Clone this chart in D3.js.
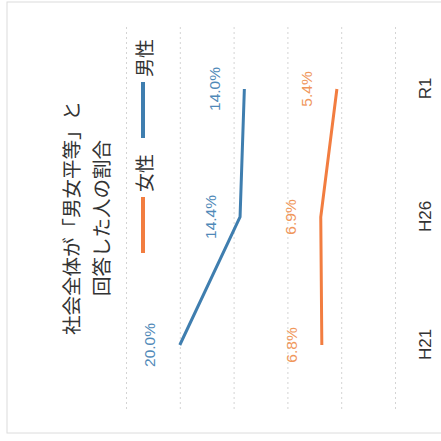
<!DOCTYPE html>
<html>
<head>
<meta charset="utf-8">
<script src="https://cdn.jsdelivr.net/npm/d3@7"></script>
<style>
  body { margin: 0; background: #fff; }
  text { font-family: "Noto Sans CJK JP", "Noto Sans", sans-serif; }
</style>
</head>
<body>
<div id="my_chart"></div>
<script>
// data
const categories = ["H21", "H26", "R1"];
const female = [6.8, 6.9, 5.4];
const male = [20.0, 14.4, 14.0];
const gridTicks = [0, 5, 10, 15, 20, 25];
const titleLines = ["社会全体が「男女平等」と", "回答した人の割合"];

const W = 441, H = 441;
const blue = "#3f7eaf", orange = "#f27d40";

const svg = d3.select("#my_chart")
    .append("svg")
    .attr("width", W)
    .attr("height", H);

// faint outer frame
svg.append("rect")
    .attr("x", 7).attr("y", 2)
    .attr("width", 440).attr("height", 431)
    .attr("fill", "none")
    .attr("stroke", "#dcdcdc");

// chart is drawn upright, then turned a quarter counter-clockwise
const g = svg.append("g")
    .attr("transform", `translate(0,${H}) rotate(-90)`);

const x = d3.scalePoint()
    .domain(categories)
    .range([32, 416])
    .padding(0.5);

const y = d3.scaleLinear()
    .domain([0, 25])
    .range([395, 126]);

// gridlines
const grid = g.append("g")
    .attr("transform", "translate(32,0)")
    .call(d3.axisLeft(y).tickValues(gridTicks).tickSize(-384).tickFormat(""));
grid.select(".domain").remove();
grid.selectAll("line")
    .attr("stroke", "#d4d4d4")
    .attr("stroke-dasharray", "2,3");

// category axis
const xa = g.append("g")
    .attr("transform", "translate(0,408)")
    .call(d3.axisBottom(x).tickSize(0).tickPadding(11));
xa.select(".domain").remove();
xa.selectAll("text")
    .attr("font-size", 17)
    .attr("fill", "#333")
    .style("font-family", "'Liberation Sans', sans-serif");

// title
g.selectAll(".title")
    .data(titleLines)
    .join("text")
    .attr("class", "title")
    .attr("x", 223)
    .attr("y", (d, i) => 70 + i * 30)
    .attr("text-anchor", "middle")
    .attr("dominant-baseline", "central")
    .attr("font-size", 19.5)
    .attr("fill", "#333")
    .text(d => d);

// legend
const legend = [
    { name: "女性", color: orange, x0: 188 },
    { name: "男性", color: blue, x0: 303 }
];
legend.forEach(l => {
    g.append("line")
        .attr("x1", l.x0).attr("x2", l.x0 + 56)
        .attr("y1", 143).attr("y2", 143)
        .attr("stroke", l.color)
        .attr("stroke-width", 4);
    g.append("text")
        .attr("x", l.x0 + 61)
        .attr("y", 143)
        .attr("dominant-baseline", "central")
        .attr("font-size", 19)
        .attr("fill", "#333")
        .text(l.name);
});

// lines and labels
const series = [
    { values: male, color: blue, label: "#5089b8" },
    { values: female, color: orange, label: "#f0975c" }
];
const line = d3.line()
    .x((d, i) => x(categories[i]))
    .y(d => y(d));

series.forEach(s => {
    g.append("path")
        .datum(s.values)
        .attr("fill", "none")
        .attr("stroke", s.color)
        .attr("stroke-width", 3)
        .attr("d", line);

    g.selectAll(null)
        .data(s.values)
        .join("text")
        .attr("x", (d, i) => x(categories[i]))
        .attr("y", d => y(d) - 30)
        .attr("text-anchor", "middle")
        .attr("dominant-baseline", "central")
        .attr("font-size", 15.5)
        .attr("fill", s.label)
        .style("font-family", "'Liberation Sans', sans-serif")
        .text(d => d.toFixed(1) + "%");
});
</script>
</body>
</html>
